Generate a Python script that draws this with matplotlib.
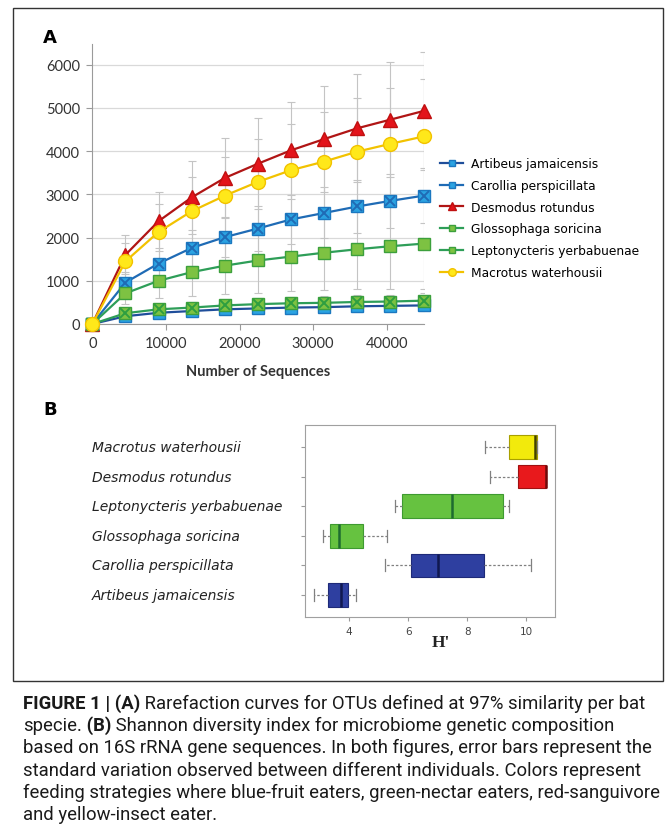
import matplotlib.pyplot as plt
from matplotlib.patches import Rectangle
from matplotlib.transforms import blended_transform_factory

# ---- panel A: rarefaction curves ----
seqs = [0, 4500, 9000, 13500, 18000, 22500, 27000, 31500, 36000, 40500, 45000]

artibeus = [0, 180, 260, 300, 340, 360, 380, 390, 410, 420, 430]
carollia = [0, 960, 1400, 1760, 2010, 2210, 2420, 2570, 2720, 2850, 2970]
desmodus = [0, 1600, 2380, 2930, 3380, 3710, 4020, 4280, 4530, 4730, 4930]
glossophaga = [0, 250, 340, 380, 430, 460, 480, 490, 510, 520, 540]
leptonycteris = [0, 710, 1000, 1200, 1350, 1470, 1560, 1650, 1730, 1800, 1860]
macrotus = [0, 1450, 2130, 2610, 2970, 3290, 3560, 3760, 3990, 4170, 4340]

artibeus_err = [0, 60, 80, 90, 100, 110, 110, 120, 120, 130, 130]
carollia_err = [0, 250, 350, 420, 470, 520, 560, 590, 610, 620, 630]
desmodus_err = [0, 450, 680, 850, 920, 1050, 1120, 1220, 1250, 1330, 1360]
glossophaga_err = [0, 80, 100, 120, 130, 140, 150, 150, 160, 160, 170]
leptonycteris_err = [0, 250, 400, 550, 650, 750, 800, 870, 930, 1000, 1060]
macrotus_err = [0, 420, 650, 800, 900, 1000, 1080, 1150, 1230, 1300, 1340]

# ---- panel B: Shannon index boxes (bottom to top) ----
species_b = ['Artibeus jamaicensis', 'Carollia perspicillata', 'Glossophaga soricina',
             'Leptonycteris yerbabuenae', 'Desmodus rotundus', 'Macrotus waterhousii']
whislo = [2.81, 5.21, 3.12, 5.56, 8.78, 8.60]
q1 = [3.27, 6.08, 3.35, 5.79, 9.73, 9.42]
med = [3.71, 7.00, 3.64, 7.50, 10.67, 10.30]
q3 = [3.97, 8.58, 4.47, 9.20, 10.67, 10.36]
whishi = [4.22, 10.17, 5.29, 9.42, 10.67, 10.38]

W, H = 665, 837
fig = plt.figure(figsize=(W / 100, H / 100), dpi=100)


def fx(px):
    return px / W


def fy(py):
    return 1 - py / H


# outer frame of the figure image
fig.patches.append(Rectangle((fx(13), fy(682)), fx(663) - fx(13), fy(9) - fy(682),
                             transform=fig.transFigure, fill=False, edgecolor='#333333', lw=1))

ax = fig.add_axes([fx(92.3), fy(325), fx(423.6) - fx(92.3), fy(45) - fy(325)])

series = [
    ('Artibeus jamaicensis', artibeus, artibeus_err, dict(color='#1F4E9A', marker='s', mfc='#2BA3E2', mec='#1B78C0', ms=8)),
    ('Carollia perspicillata', carollia, carollia_err, dict(color='#1F6BB5', marker='s', mfc='#2BA3E2', mec='#1B78C0', ms=9)),
    ('Desmodus rotundus', desmodus, desmodus_err, dict(color='#B01515', marker='^', mfc='#E3141B', mec='#C01010', ms=10)),
    ('Glossophaga soricina', glossophaga, glossophaga_err, dict(color='#2E9E58', marker='s', mfc='#7DC242', mec='#3CA03C', ms=9)),
    ('Leptonycteris yerbabuenae', leptonycteris, leptonycteris_err, dict(color='#2E9E58', marker='s', mfc='#7DC242', mec='#3CA03C', ms=9)),
    ('Macrotus waterhousii', macrotus, macrotus_err, dict(color='#F2C200', marker='o', mfc='#FFE81A', mec='#F2C200', ms=10)),
]

for name, vals, err, st in series:
    ax.errorbar(seqs, vals, yerr=err, fmt='none', ecolor='#c4c4c4', elinewidth=0.8,
                capsize=3, capthick=0.8, zorder=1)

handles = []
for name, vals, err, st in series:
    ln, = ax.plot(seqs, vals, lw=1.6, label=name, clip_on=False, zorder=3, **st)
    handles.append(ln)
    if name in ('Carollia perspicillata', 'Glossophaga soricina'):
        ax.plot(seqs, vals, ls='none', marker='x', ms=7, mew=1.4,
                color='#1F6BB5' if name.startswith('Car') else '#2E9E40', clip_on=False, zorder=3)

ax.set_xlim(0, 45000)
ax.set_ylim(0, 6480)
ax.set_xticks([0, 10000, 20000, 30000, 40000])
ax.set_yticks([0, 1000, 2000, 3000, 4000, 5000, 6000])
ax.yaxis.grid(True, color='#d9d9d9', lw=0.9)
ax.set_axisbelow(True)
for s in ('top', 'right'):
    ax.spines[s].set_visible(False)
for s in ('left', 'bottom'):
    ax.spines[s].set_color('#9a9a9a')
ax.tick_params(colors='#9a9a9a', length=4, labelcolor='#333333', labelsize=10.5, pad=5)
for lab in ax.get_xticklabels() + ax.get_yticklabels():
    lab.set_family('Lato')
ax.set_xlabel('Number of Sequences', family='Lato', fontweight='bold', fontsize=10.5,
              color='#333333', labelpad=10)

fig.legend(handles=handles, loc='upper left', bbox_to_anchor=(fx(440), fy(158)),
           frameon=False, fontsize=8.8, borderpad=0, borderaxespad=0,
           handlelength=1.9, handletextpad=0.6, labelspacing=0.72, markerscale=0.55)

fig.text(fx(43), fy(38), 'A', fontsize=13, fontweight='bold', va='center', ha='left')
fig.text(fx(43), fy(410), 'B', fontsize=13, fontweight='bold', va='center', ha='left')

# ---- panel B ----
bx = fig.add_axes([fx(305), fy(618), fx(555) - fx(305), fy(426) - fy(618)])
stats = []
for i in range(len(species_b)):
    stats.append(dict(whislo=whislo[i], q1=q1[i], med=med[i], q3=q3[i], whishi=whishi[i], label=species_b[i]))

fills = ['#2E3FA0', '#2E3FA0', '#66C240', '#66C240', '#E8191C', '#F2EA0C']
edges = ['#1E2A78', '#1E2A78', '#3E9A30', '#3E9A30', '#A01010', '#A8A000']
meds = ['#101850', '#101850', '#1E6B30', '#1E6B30', '#700808', '#404000']

positions = list(range(1, len(species_b) + 1))
bp = bx.bxp(stats, positions=positions, vert=False, widths=0.8, patch_artist=True,
            showfliers=False,
            whiskerprops=dict(color='#808080', lw=0.9, ls=(0, (2, 1.5))),
            capprops=dict(color='#808080', lw=0.9), capwidths=0.4)
for i, b in enumerate(bp['boxes']):
    b.set_facecolor(fills[i])
    b.set_edgecolor(edges[i])
    b.set_linewidth(0.8)
for i, m in enumerate(bp['medians']):
    m.set_color(meds[i])
    m.set_linewidth(1.8)

bx.set_xlim(2.5, 10.98)
bx.set_ylim(0.257, 6.743)
bx.set_xticks([4, 6, 8, 10])
bx.set_yticks(positions)
bx.set_yticklabels([])
for s in bx.spines.values():
    s.set_color('#a0a0a0')
bx.tick_params(colors='#9a9a9a', length=3, labelcolor='#444444', labelsize=7.5)

tr = blended_transform_factory(fig.transFigure, bx.transData)
for i, name in enumerate(species_b):
    bx.text(fx(92), positions[i], name, transform=tr, style='italic', fontsize=10,
            color='#222222', ha='left', va='center')

fig.text(fx(441), fy(643), "H'", family='Liberation Serif', fontweight='bold', fontsize=12.5,
         ha='center', va='center', color='#222222')

# ---- caption ----
cap_lines = [
    [('FIGURE 1 | (A)', True), (' Rarefaction curves for OTUs defined at 97% similarity per bat', False)],
    [('specie.', False), (' (B)', True), (' Shannon diversity index for microbiome genetic composition', False)],
    [('based on 16S rRNA gene sequences. In both figures, error bars represent the', False)],
    [('standard variation observed between different individuals. Colors represent', False)],
    [('feeding strategies where blue-fruit eaters, green-nectar eaters, red-sanguivore', False)],
    [('and yellow-insect eater.', False)],
]
cap_y = [704, 726, 748, 771, 793, 815]

renderer = fig.canvas.get_renderer()
for parts, py in zip(cap_lines, cap_y):
    x = fx(23)
    for txt, bold in parts:
        t = fig.text(x, fy(py), txt, family='Roboto', fontsize=13.3,
                     fontweight='bold' if bold else 'normal', va='center', ha='left', color='#1a1a1a')
        x += t.get_window_extent(renderer).width / W

fig.savefig('out.png', dpi=100)
